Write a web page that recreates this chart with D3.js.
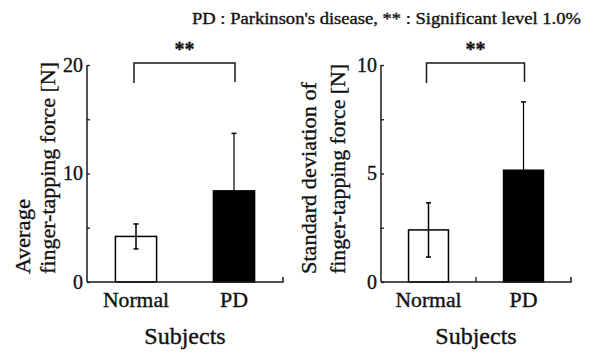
<!DOCTYPE html>
<html>
<head>
<meta charset="utf-8">
<script src="https://cdn.jsdelivr.net/npm/d3@7"></script>
<style>
  body { margin: 0; background: #fff; }
  svg { display: block; }
  text { font-family: "Liberation Serif", "Times New Roman", Times, serif; fill: #111; stroke: #111; stroke-width: 0.35px; }
</style>
</head>
<body>
<svg id="chart" width="597" height="353"></svg>
<script>
// values
const groups = ['Normal', 'PD'];
const avgMean = [4.2, 8.4];
const avgSD = [1.15, 5.3];
const sdMean = [2.4, 5.15];
const sdSD = [1.25, 3.15];

const avgTicks = [0, 10, 20];
const avgMinor = [5, 15];
const sdTicks = [0, 5, 10];
const sdMinor = [2.5, 7.5];

const svg = d3.select('#chart');
const ink = '#1a1a1a';

svg.append('text')
  .attr('x', 192).attr('y', 24)
  .attr('font-size', 16)
  .attr('textLength', 389).attr('lengthAdjust', 'spacingAndGlyphs')
  .text("PD : Parkinson's disease, ** : Significant level 1.0%");

function panel(opt) {
  const { left, right, top, bottom, max, mean, sd, ticks, minor, labels, labelX, labelLen, midTick } = opt;

  const y = d3.scaleLinear().domain([0, max]).range([bottom, top]);
  const x = d3.scaleBand().domain(groups).range([left, right])
    .paddingInner(0.58).paddingOuter(0.29);

  const g = svg.append('g');

  // bars
  g.selectAll('rect.bar')
    .data(groups)
    .join('rect')
    .attr('class', 'bar')
    .attr('x', (d) => x(d))
    .attr('width', x.bandwidth())
    .attr('y', (d, i) => y(mean[i]))
    .attr('height', (d, i) => bottom - y(mean[i]))
    .attr('fill', (d, i) => (i === 0 ? '#fff' : '#000'))
    .attr('stroke', '#000')
    .attr('stroke-width', 1.5);

  // error bars
  const eb = g.selectAll('g.err').data(groups).join('g').attr('class', 'err');
  eb.append('line')
    .attr('x1', (d) => x(d) + x.bandwidth() / 2)
    .attr('x2', (d) => x(d) + x.bandwidth() / 2)
    .attr('y1', (d, i) => y(mean[i] - sd[i]))
    .attr('y2', (d, i) => y(mean[i] + sd[i]))
    .attr('stroke', '#000')
    .attr('stroke-width', (d, i) => (i === 0 ? 1.5 : 1.2));
  [1, -1].forEach((s) => {
    eb.append('line')
      .attr('x1', (d) => x(d) + x.bandwidth() / 2 - 2.5)
      .attr('x2', (d) => x(d) + x.bandwidth() / 2 + 2.5)
      .attr('y1', (d, i) => y(mean[i] + s * sd[i]))
      .attr('y2', (d, i) => y(mean[i] + s * sd[i]))
      .attr('stroke', '#000')
      .attr('stroke-width', 1.5);
  });

  // y axis, ticks pointing inward
  const yAxis = g.append('g')
    .attr('transform', `translate(${left},0)`)
    .call(d3.axisLeft(y).tickValues(ticks.concat(minor)).tickSize(-3).tickPadding(4)
      .tickFormat((d) => (ticks.includes(d) ? d : '')));
  yAxis.select('.domain').attr('d', `M0,${top}V${bottom}`).attr('stroke', ink).attr('stroke-width', 1.5);
  yAxis.selectAll('.tick line').attr('stroke', ink).attr('stroke-width', 1.3);
  yAxis.selectAll('.tick text')
    .attr('font-size', 20)
    .attr('fill', '#111');

  // x axis line with end tick
  const xAxis = g.append('g');
  xAxis.append('path')
    .attr('d', `M${left},${bottom}H${right}v-5`)
    .attr('fill', 'none').attr('stroke', ink).attr('stroke-width', 1.5);
  if (midTick) {
    const mid = (x('Normal') + x.bandwidth() + x('PD')) / 2;
    xAxis.append('line')
      .attr('x1', mid).attr('x2', mid).attr('y1', bottom).attr('y2', bottom - 5)
      .attr('stroke', ink).attr('stroke-width', 1.3);
  }

  xAxis.selectAll('text.cat')
    .data(groups)
    .join('text')
    .attr('class', 'cat')
    .attr('x', (d) => x(d) + x.bandwidth() / 2)
    .attr('y', bottom + 25)
    .attr('text-anchor', 'middle')
    .attr('font-size', 20)
    .attr('textLength', (d) => (d === 'Normal' ? 66 : 28))
    .attr('lengthAdjust', 'spacingAndGlyphs')
    .text((d) => d);

  g.append('text')
    .attr('x', (left + right) / 2)
    .attr('y', bottom + 62)
    .attr('text-anchor', 'middle')
    .attr('font-size', 24)
    .text('Subjects');

  // significance bracket
  const c0 = x('Normal') + x.bandwidth() / 2 - 2;
  const c1 = x('PD') + x.bandwidth() / 2 + 1;
  g.append('path')
    .attr('d', `M${c0},${top + 18}V${top - 2}H${c1}V${top + 17}`)
    .attr('fill', 'none').attr('stroke', ink).attr('stroke-width', 1.5);
  g.append('text')
    .attr('x', (c0 + c1) / 2)
    .attr('y', top - 9)
    .attr('text-anchor', 'middle')
    .attr('font-size', 20)
    .attr('font-weight', 'bold')
    .text('**');

  // y label, two lines reading upward
  labels.forEach((t, i) => {
    g.append('text')
      .attr('transform', `translate(${labelX[i]},${bottom - 8}) rotate(-90)`)
      .attr('dy', '0.35em')
      .attr('font-size', 22)
      .attr('textLength', labelLen[i])
      .attr('lengthAdjust', 'spacingAndGlyphs')
      .text(t);
  });
}

panel({
  left: 87, right: 283, top: 65, bottom: 282, max: 20,
  mean: avgMean, sd: avgSD, ticks: avgTicks, minor: avgMinor,
  labels: ['Average', 'finger-tapping force [N]'],
  labelX: [22, 47], labelLen: [75, 212], midTick: false
});

panel({
  left: 381, right: 571, top: 65, bottom: 282, max: 10,
  mean: sdMean, sd: sdSD, ticks: sdTicks, minor: sdMinor,
  labels: ['Standard deviation of', 'finger-tapping force [N]'],
  labelX: [308, 337], labelLen: [192, 210], midTick: true
});
</script>
</body>
</html>
